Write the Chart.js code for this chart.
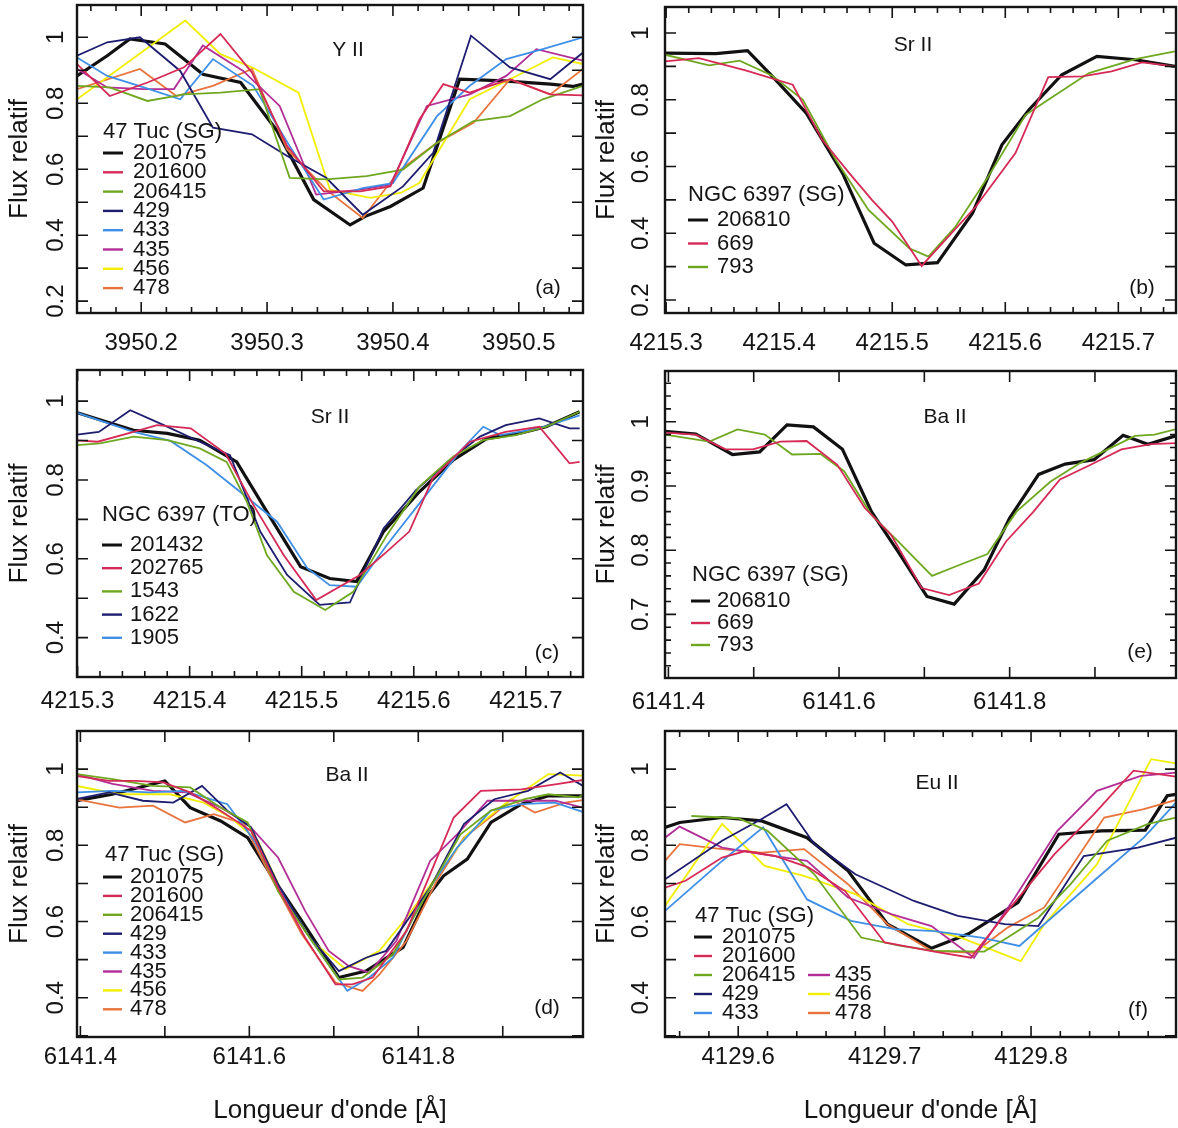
<!DOCTYPE html>
<html>
<head>
<meta charset="utf-8">
<title>Profils de raies</title>
<script src="https://cdn.jsdelivr.net/npm/chart.js@4.4.1/dist/chart.umd.min.js"></script>
<style>
  body { margin: 0; background: #fff; width: 1178px; height: 1128px; position: relative; overflow: hidden; }
  canvas { position: absolute; }
</style>
</head>
<body>
<canvas id="chartA" width="590" height="365" style="left:0;top:0"></canvas>
<canvas id="chartB" width="588" height="365" style="left:590px;top:0"></canvas>
<canvas id="chartC" width="590" height="360" style="left:0;top:365px"></canvas>
<canvas id="chartE" width="588" height="360" style="left:590px;top:365px"></canvas>
<canvas id="chartD" width="590" height="403" style="left:0;top:725px"></canvas>
<canvas id="chartF" width="588" height="403" style="left:590px;top:725px"></canvas>
<script>
// star names per sample
const tucSG = ['201075', '201600', '206415', '429', '433', '435', '456', '478'];
const ngcSG = ['206810', '669', '793'];
const ngcTO = ['201432', '202765', '1543', '1622', '1905'];

// (a) Y II, 47 Tuc (SG)  -- [wavelength, relative flux]
const a_201075 = [[3950.149,0.883],[3950.173,0.944],[3950.191,0.995],[3950.219,0.980],[3950.249,0.888],[3950.279,0.863],[3950.308,0.716],[3950.337,0.508],[3950.366,0.431],[3950.378,0.457],[3950.398,0.487],[3950.424,0.543],[3950.453,0.873],[3950.488,0.868],[3950.525,0.858],[3950.543,0.851],[3950.551,0.858]];
const a_201600 = [[3950.149,0.919],[3950.175,0.822],[3950.205,0.863],[3950.234,0.909],[3950.263,1.010],[3950.288,0.893],[3950.316,0.670],[3950.345,0.533],[3950.374,0.533],[3950.398,0.548],[3950.421,0.751],[3950.440,0.858],[3950.461,0.832],[3950.493,0.873],[3950.525,0.827],[3950.551,0.824]];
const a_206415 = [[3950.149,0.853],[3950.175,0.848],[3950.205,0.807],[3950.234,0.827],[3950.263,0.832],[3950.294,0.843],[3950.318,0.574],[3950.347,0.569],[3950.379,0.579],[3950.408,0.599],[3950.435,0.680],[3950.464,0.746],[3950.493,0.761],[3950.519,0.812],[3950.551,0.853]];
const a_429 = [[3950.149,0.944],[3950.173,0.985],[3950.199,1.000],[3950.231,0.898],[3950.257,0.726],[3950.288,0.706],[3950.316,0.640],[3950.347,0.574],[3950.376,0.462],[3950.408,0.548],[3950.432,0.650],[3950.462,1.005],[3950.493,0.909],[3950.525,0.873],[3950.551,0.954]];
const a_433 = [[3950.149,0.939],[3950.173,0.883],[3950.202,0.848],[3950.231,0.812],[3950.257,0.934],[3950.289,0.853],[3950.318,0.670],[3950.345,0.508],[3950.376,0.543],[3950.400,0.558],[3950.435,0.761],[3950.461,0.853],[3950.490,0.934],[3950.519,0.964],[3950.551,1.000]];
const a_435 = [[3950.149,0.904],[3950.173,0.848],[3950.202,0.843],[3950.226,0.843],[3950.249,0.975],[3950.281,0.898],[3950.310,0.792],[3950.339,0.523],[3950.374,0.538],[3950.398,0.553],[3950.427,0.792],[3950.461,0.827],[3950.490,0.883],[3950.514,0.964],[3950.551,0.929]];
const a_456 = [[3950.149,0.812],[3950.235,1.051],[3950.263,0.949],[3950.288,0.909],[3950.325,0.832],[3950.350,0.538],[3950.382,0.513],[3950.406,0.528],[3950.421,0.558],[3950.461,0.812],[3950.493,0.873],[3950.527,0.939],[3950.551,0.919]];
const a_478 = [[3950.149,0.843],[3950.199,0.904],[3950.228,0.822],[3950.257,0.853],[3950.288,0.904],[3950.316,0.660],[3950.347,0.538],[3950.376,0.452],[3950.406,0.599],[3950.435,0.680],[3950.464,0.741],[3950.493,0.873],[3950.525,0.827],[3950.551,0.904]];

// (b) Sr II, NGC 6397 (SG)
const b_206810 = [[4215.299,0.940],[4215.344,0.938],[4215.372,0.947],[4215.394,0.870],[4215.424,0.760],[4215.456,0.580],[4215.484,0.370],[4215.512,0.305],[4215.540,0.312],[4215.571,0.460],[4215.597,0.665],[4215.621,0.770],[4215.650,0.875],[4215.681,0.930],[4215.715,0.920],[4215.750,0.900]];
const b_669 = [[4215.299,0.915],[4215.329,0.925],[4215.371,0.887],[4215.412,0.845],[4215.438,0.680],[4215.462,0.580],[4215.482,0.500],[4215.500,0.435],[4215.526,0.302],[4215.547,0.380],[4215.574,0.480],[4215.609,0.640],[4215.638,0.868],[4215.668,0.870],[4215.694,0.885],[4215.721,0.912],[4215.750,0.900]];
const b_793 = [[4215.299,0.935],[4215.338,0.903],[4215.365,0.917],[4215.394,0.872],[4215.421,0.800],[4215.450,0.620],[4215.479,0.470],[4215.515,0.355],[4215.532,0.330],[4215.556,0.420],[4215.585,0.570],[4215.618,0.755],[4215.638,0.800],[4215.674,0.880],[4215.715,0.922],[4215.750,0.945]];

// (c) Sr II, NGC 6397 (TO)
const c_201432 = [[4215.297,0.973],[4215.350,0.926],[4215.380,0.918],[4215.409,0.901],[4215.442,0.846],[4215.469,0.719],[4215.499,0.580],[4215.525,0.550],[4215.549,0.542],[4215.573,0.669],[4215.605,0.770],[4215.635,0.850],[4215.665,0.905],[4215.694,0.918],[4215.718,0.935],[4215.748,0.973]];
const c_202765 = [[4215.297,0.901],[4215.318,0.897],[4215.350,0.922],[4215.371,0.939],[4215.401,0.931],[4215.432,0.867],[4215.457,0.736],[4215.484,0.609],[4215.513,0.495],[4215.552,0.559],[4215.576,0.618],[4215.596,0.669],[4215.617,0.804],[4215.650,0.897],[4215.682,0.922],[4215.712,0.935],[4215.739,0.842],[4215.748,0.846]];
const c_1543 = [[4215.297,0.888],[4215.320,0.893],[4215.350,0.910],[4215.380,0.901],[4215.409,0.880],[4215.433,0.846],[4215.451,0.745],[4215.469,0.609],[4215.493,0.516],[4215.521,0.470],[4215.546,0.516],[4215.576,0.660],[4215.605,0.783],[4215.635,0.859],[4215.662,0.901],[4215.691,0.914],[4215.718,0.935],[4215.748,0.973]];
const c_1622 = [[4215.297,0.914],[4215.319,0.922],[4215.347,0.977],[4215.377,0.939],[4215.409,0.897],[4215.436,0.863],[4215.463,0.669],[4215.487,0.559],[4215.516,0.483],[4215.543,0.489],[4215.573,0.677],[4215.602,0.774],[4215.632,0.850],[4215.659,0.910],[4215.682,0.939],[4215.712,0.956],[4215.739,0.931],[4215.748,0.931]];
const c_1905 = [[4215.297,0.973],[4215.350,0.922],[4215.383,0.899],[4215.415,0.838],[4215.445,0.770],[4215.478,0.694],[4215.505,0.576],[4215.525,0.533],[4215.549,0.529],[4215.576,0.635],[4215.611,0.762],[4215.641,0.872],[4215.662,0.935],[4215.677,0.914],[4215.712,0.931],[4215.748,0.964]];

// (e) Ba II, NGC 6397 (SG)
const e_206810 = [[6141.396,0.985],[6141.432,0.981],[6141.475,0.949],[6141.507,0.953],[6141.539,0.995],[6141.570,0.992],[6141.604,0.957],[6141.638,0.860],[6141.669,0.798],[6141.703,0.728],[6141.735,0.716],[6141.770,0.769],[6141.800,0.850],[6141.834,0.918],[6141.865,0.934],[6141.899,0.941],[6141.933,0.979],[6141.962,0.965],[6142.002,0.981]];
const e_669 = [[6141.396,0.983],[6141.432,0.980],[6141.467,0.957],[6141.499,0.957],[6141.531,0.969],[6141.562,0.970],[6141.598,0.933],[6141.630,0.866],[6141.661,0.824],[6141.697,0.741],[6141.729,0.730],[6141.764,0.748],[6141.796,0.814],[6141.828,0.860],[6141.859,0.910],[6141.895,0.933],[6141.931,0.957],[6141.966,0.965],[6142.002,0.967]];
const e_793 = [[6141.396,0.980],[6141.448,0.969],[6141.481,0.988],[6141.513,0.980],[6141.545,0.949],[6141.578,0.950],[6141.606,0.923],[6141.638,0.855],[6141.669,0.814],[6141.709,0.760],[6141.741,0.777],[6141.774,0.794],[6141.808,0.860],[6141.848,0.907],[6141.883,0.936],[6141.915,0.957],[6141.947,0.978],[6141.970,0.980],[6142.002,0.991]];

// (d) Ba II, 47 Tuc (SG)
const d_201075 = [[6141.395,0.917],[6141.438,0.934],[6141.500,0.969],[6141.530,0.899],[6141.566,0.864],[6141.598,0.820],[6141.630,0.707],[6141.662,0.602],[6141.706,0.453],[6141.738,0.470],[6141.782,0.532],[6141.810,0.663],[6141.830,0.720],[6141.858,0.764],[6141.886,0.860],[6141.922,0.908],[6141.954,0.930],[6142.002,0.930]];
const d_201600 = [[6141.395,0.982],[6141.434,0.969],[6141.466,0.969],[6141.498,0.965],[6141.530,0.939],[6141.566,0.891],[6141.602,0.838],[6141.634,0.689],[6141.666,0.558],[6141.702,0.435],[6141.722,0.435],[6141.746,0.453],[6141.786,0.575],[6141.814,0.724],[6141.842,0.873],[6141.874,0.943],[6141.922,0.947],[6141.966,0.961],[6142.002,0.974]];
const d_206415 = [[6141.395,0.987],[6141.438,0.974],[6141.486,0.956],[6141.530,0.952],[6141.566,0.899],[6141.598,0.860],[6141.634,0.680],[6141.666,0.575],[6141.706,0.448],[6141.734,0.453],[6141.770,0.514],[6141.810,0.672],[6141.850,0.829],[6141.886,0.891],[6141.926,0.921],[6141.954,0.934],[6141.990,0.926],[6142.002,0.943]];
const d_429 = [[6141.395,0.921],[6141.434,0.939],[6141.474,0.917],[6141.510,0.912],[6141.544,0.956],[6141.574,0.891],[6141.602,0.847],[6141.634,0.698],[6141.666,0.575],[6141.706,0.470],[6141.738,0.505],[6141.762,0.523],[6141.814,0.689],[6141.854,0.856],[6141.890,0.921],[6141.930,0.943],[6141.968,0.991],[6142.002,0.947]];
const d_433 = [[6141.395,0.939],[6141.438,0.943],[6141.482,0.939],[6141.522,0.943],[6141.574,0.908],[6141.606,0.812],[6141.642,0.663],[6141.674,0.549],[6141.716,0.418],[6141.742,0.453],[6141.770,0.505],[6141.806,0.663],[6141.846,0.794],[6141.886,0.891],[6141.922,0.908],[6141.962,0.912],[6142.002,0.882]];
const d_435 = [[6141.395,0.987],[6141.438,0.961],[6141.486,0.943],[6141.526,0.939],[6141.566,0.899],[6141.598,0.856],[6141.634,0.768],[6141.666,0.628],[6141.694,0.523],[6141.718,0.483],[6141.742,0.466],[6141.774,0.549],[6141.814,0.759],[6141.846,0.829],[6141.882,0.917],[6141.922,0.917],[6141.962,0.917],[6142.002,0.895]];
const d_456 = [[6141.395,0.956],[6141.446,0.934],[6141.506,0.934],[6141.546,0.912],[6141.578,0.873],[6141.610,0.812],[6141.642,0.663],[6141.674,0.549],[6141.714,0.475],[6141.754,0.523],[6141.786,0.610],[6141.818,0.707],[6141.858,0.829],[6141.902,0.908],[6141.954,0.987],[6142.002,0.982]];
const d_478 = [[6141.395,0.921],[6141.446,0.899],[6141.486,0.904],[6141.524,0.860],[6141.558,0.882],[6141.594,0.856],[6141.626,0.715],[6141.662,0.567],[6141.702,0.440],[6141.734,0.418],[6141.754,0.461],[6141.786,0.549],[6141.822,0.707],[6141.854,0.820],[6141.890,0.882],[6141.910,0.921],[6141.938,0.886],[6141.974,0.912],[6142.002,0.921]];

// (f) Eu II, 47 Tuc (SG)
const f_201075 = [[4129.550,0.847],[4129.560,0.860],[4129.589,0.873],[4129.616,0.864],[4129.647,0.820],[4129.675,0.733],[4129.702,0.593],[4129.732,0.530],[4129.757,0.567],[4129.791,0.650],[4129.819,0.829],[4129.848,0.838],[4129.878,0.840],[4129.893,0.930],[4129.899,0.934]];
const f_201600 = [[4129.550,0.689],[4129.564,0.707],[4129.589,0.768],[4129.605,0.785],[4129.625,0.772],[4129.648,0.742],[4129.673,0.680],[4129.700,0.545],[4129.734,0.521],[4129.759,0.505],[4129.786,0.637],[4129.816,0.777],[4129.843,0.882],[4129.870,0.996],[4129.899,0.980]];
const f_206415 = [[4129.568,0.877],[4129.600,0.871],[4129.620,0.838],[4129.652,0.724],[4129.684,0.558],[4129.711,0.536],[4129.734,0.523],[4129.768,0.521],[4129.784,0.558],[4129.805,0.610],[4129.827,0.698],[4129.852,0.812],[4129.880,0.856],[4129.899,0.873]];
const f_429 = [[4129.550,0.711],[4129.589,0.812],[4129.616,0.869],[4129.633,0.908],[4129.652,0.803],[4129.680,0.724],[4129.720,0.654],[4129.750,0.615],[4129.782,0.593],[4129.805,0.588],[4129.836,0.772],[4129.873,0.794],[4129.899,0.820]];
const f_433 = [[4129.550,0.628],[4129.589,0.759],[4129.617,0.847],[4129.647,0.658],[4129.677,0.602],[4129.707,0.580],[4129.734,0.575],[4129.766,0.558],[4129.792,0.536],[4129.809,0.593],[4129.843,0.707],[4129.877,0.820],[4129.899,0.912]];
const f_435 = [[4129.550,0.820],[4129.560,0.849],[4129.589,0.794],[4129.616,0.777],[4129.647,0.759],[4129.675,0.663],[4129.705,0.619],[4129.732,0.588],[4129.761,0.505],[4129.789,0.663],[4129.818,0.838],[4129.845,0.943],[4129.875,0.982],[4129.899,0.991]];
const f_456 = [[4129.550,0.641],[4129.589,0.856],[4129.618,0.746],[4129.645,0.720],[4129.680,0.672],[4129.716,0.593],[4129.752,0.558],[4129.793,0.496],[4129.809,0.593],[4129.845,0.750],[4129.882,1.026],[4129.899,1.015]];
const f_478 = [[4129.550,0.759],[4129.560,0.803],[4129.589,0.790],[4129.616,0.781],[4129.645,0.790],[4129.675,0.698],[4129.702,0.593],[4129.732,0.523],[4129.761,0.518],[4129.784,0.584],[4129.809,0.637],[4129.850,0.873],[4129.877,0.895],[4129.899,0.919]];

const INK = '#141414';
const FONT = "'Liberation Sans', Arial, sans-serif";
// same colour order in every panel: black, red, green, navy, light blue, magenta, yellow, orange
const palette = ['#111111', '#d62a56', '#6fa820', '#1d1d70', '#3f8fe6', '#b22d95', '#f2ee00', '#e8733d'];

function isMult(v, step) {
    let q = v / step;
    return Math.abs(q - Math.round(q)) < 1e-3;
}

// frame, inward ticks, element name, panel tag and legend
function decor(cfg) {
    return {
        id: 'decor',
        afterDraw(chart) {
            let ctx = chart.ctx;
            let a = chart.chartArea;
            let xs = chart.scales.x, ys = chart.scales.y;
            ctx.save();
            ctx.strokeStyle = INK;
            ctx.lineWidth = 1.6;
            ctx.beginPath();
            xs.ticks.forEach(t => {
                let p = xs.getPixelForValue(t.value);
                let len = isMult(t.value, cfg.xMajor) ? 11 : 6;
                ctx.moveTo(p, a.bottom); ctx.lineTo(p, a.bottom - len);
                ctx.moveTo(p, a.top); ctx.lineTo(p, a.top + len);
            });
            ys.ticks.forEach(t => {
                let p = ys.getPixelForValue(t.value);
                let len = isMult(t.value, cfg.yMajor) ? 11 : 6;
                ctx.moveTo(a.left, p); ctx.lineTo(a.left + len, p);
                ctx.moveTo(a.right, p); ctx.lineTo(a.right - len, p);
            });
            ctx.stroke();
            ctx.lineWidth = 2.4;
            ctx.strokeRect(a.left, a.top, a.right - a.left, a.bottom - a.top);

            ctx.fillStyle = INK;
            ctx.textBaseline = 'middle';
            ctx.textAlign = 'center';
            ctx.font = '21px ' + FONT;
            ctx.fillText(cfg.element, a.left + cfg.elemAt[0], a.top + cfg.elemAt[1]);
            ctx.fillText(cfg.tag, a.right - cfg.tagAt[0], a.bottom - cfg.tagAt[1]);

            // legend
            let L = cfg.legend;
            ctx.textAlign = 'left';
            ctx.font = '22px ' + FONT;
            ctx.fillText(cfg.group, a.left + L.titleX, a.top + L.titleY);
            chart.data.datasets.forEach((ds, i) => {
                let second = L.split && i >= L.split;
                let col = second ? L.col2 : L.col1;
                let row = second ? i - L.split + L.col2.row : i;
                let y = a.top + L.rowY + row * L.rowH;
                ctx.strokeStyle = ds.borderColor;
                ctx.lineWidth = ds.borderWidth > 2 ? 3 : 2.4;
                ctx.beginPath();
                ctx.moveTo(a.left + col.line[0], y);
                ctx.lineTo(a.left + col.line[1], y);
                ctx.stroke();
                ctx.fillStyle = INK;
                ctx.fillText(ds.label, a.left + col.text, y);
            });
            ctx.restore();
        }
    };
}

function makePanel(cfg) {
    let datasets = cfg.series.map((s, i) => ({
        label: cfg.names[i],
        data: s.map(p => ({x: p[0], y: p[1]})),
        borderColor: palette[i],
        borderWidth: i === 0 ? 3.2 : 1.8,
        pointRadius: 0,
        tension: 0,
        fill: false,
        order: i === 0 ? 10 : i
    }));
    let left = cfg.col === 0;
    return new Chart(document.getElementById(cfg.id), {
        type: 'line',
        data: {datasets: datasets},
        plugins: [decor(cfg)],
        options: {
            responsive: false,
            animation: false,
            layout: {padding: {top: cfg.padTop, right: left ? 7 : 2, bottom: 0, left: 0}},
            plugins: {legend: {display: false}, tooltip: {enabled: false}, title: {display: false}},
            scales: {
                x: {
                    type: 'linear',
                    min: cfg.x[0], max: cfg.x[1],
                    grid: {display: false, drawTicks: false},
                    border: {display: false},
                    ticks: {
                        stepSize: cfg.xStep, autoSkip: false, includeBounds: false,
                        minRotation: 0, maxRotation: 0, padding: cfg.xPad,
                        color: INK, font: {family: FONT, size: 24},
                        callback: v => isMult(v, cfg.xLabel) ? v.toFixed(1) : ''
                    },
                    title: {
                        display: !!cfg.xTitle, text: "Longueur d'onde [Å]", color: INK,
                        font: {family: FONT, size: 26}, padding: {top: 0, bottom: 2}
                    },
                    afterFit: s => { s.height = cfg.xHeight; s.paddingLeft = 0; s.paddingRight = 0; }
                },
                y: {
                    type: 'linear',
                    min: cfg.y[0], max: cfg.y[1],
                    grid: {display: false, drawTicks: false},
                    border: {display: false},
                    ticks: {
                        stepSize: cfg.yStep, autoSkip: false, includeBounds: false,
                        minRotation: 90, maxRotation: 90, crossAlign: 'center',
                        padding: left ? 4 : 7,
                        color: INK, font: {family: FONT, size: 24},
                        callback: v => isMult(v, cfg.yLabel) ? String(Math.round(v * 10) / 10) : ''
                    },
                    title: {
                        display: true, text: 'Flux relatif', color: INK,
                        font: {family: FONT, size: 26}, padding: {top: left ? 4 : 1, bottom: 0}
                    },
                    afterFit: s => { s.width = left ? 77 : 75; s.paddingTop = 0; s.paddingBottom = 0; }
                }
            }
        }
    });
}

makePanel({
    id: 'chartA', col: 0, element: 'Y II', tag: '(a)', group: '47 Tuc (SG)', names: tucSG,
    series: [a_201075, a_201600, a_206415, a_429, a_433, a_435, a_456, a_478],
    x: [3950.149, 3950.551], xStep: 0.02, xMajor: 0.1, xLabel: 0.1,
    y: [0.164, 1.098], yStep: 0.1, yMajor: 0.1, yLabel: 0.2,
    padTop: 5, xHeight: 52, xPad: 16,
    elemAt: [271, 45], tagAt: [35, 25],
    legend: {titleX: 26, titleY: 127, rowY: 148, rowH: 19.3, col1: {line: [26, 46], text: 56}}
});

makePanel({
    id: 'chartB', col: 1, element: 'Sr II', tag: '(b)', group: 'NGC 6397 (SG)', names: ngcSG,
    series: [b_206810, b_669, b_793],
    x: [4215.299, 4215.751], xStep: 0.02, xMajor: 0.1, xLabel: 0.1,
    y: [0.161, 1.078], yStep: 0.1, yMajor: 0.1, yLabel: 0.2,
    padTop: 7, xHeight: 52, xPad: 16,
    elemAt: [248, 38], tagAt: [34, 25],
    legend: {titleX: 23, titleY: 188, rowY: 213, rowH: 23.5, col1: {line: [23, 43], text: 52}}
});

makePanel({
    id: 'chartC', col: 0, element: 'Sr II', tag: '(c)', group: 'NGC 6397 (TO)', names: ngcTO,
    series: [c_201432, c_202765, c_1543, c_1622, c_1905],
    x: [4215.2995, 4215.751], xStep: 0.02, xMajor: 0.1, xLabel: 0.1,
    y: [0.30, 1.079], yStep: 0.1, yMajor: 0.1, yLabel: 0.2,
    padTop: 5, xHeight: 48, xPad: 10,
    elemAt: [253, 47], tagAt: [36, 24],
    legend: {titleX: 25, titleY: 145, rowY: 175, rowH: 23.2, col1: {line: [25, 45], text: 53}}
});

makePanel({
    id: 'chartE', col: 1, element: 'Ba II', tag: '(e)', group: 'NGC 6397 (SG)', names: ngcSG,
    series: [e_206810, e_669, e_793],
    x: [6141.396, 6141.995], xStep: 0.1, xMajor: 0.1, xLabel: 0.2,
    y: [0.601, 1.079], yStep: 0.02, yMajor: 0.1, yLabel: 0.1,
    padTop: 6, xHeight: 47, xPad: 10,
    elemAt: [280, 46], tagAt: [36, 26],
    legend: {titleX: 27, titleY: 204, rowY: 230, rowH: 22, col1: {line: [26, 45], text: 52}}
});

makePanel({
    id: 'chartD', col: 0, element: 'Ba II', tag: '(d)', group: '47 Tuc (SG)', names: tucSG,
    series: [d_201075, d_201600, d_206415, d_429, d_433, d_435, d_456, d_478],
    x: [6141.396, 6141.995], xStep: 0.1, xMajor: 0.1, xLabel: 0.2,
    y: [0.297, 1.1], yStep: 0.1, yMajor: 0.1, yLabel: 0.2,
    padTop: 6, xHeight: 91, xPad: 6, xTitle: true,
    elemAt: [270, 44], tagAt: [36, 29],
    legend: {titleX: 28, titleY: 124, rowY: 146, rowH: 18.9, col1: {line: [26, 45], text: 53}}
});

makePanel({
    id: 'chartF', col: 1, element: 'Eu II', tag: '(f)', group: '47 Tuc (SG)', names: tucSG,
    series: [f_201075, f_201600, f_206415, f_429, f_433, f_435, f_456, f_478],
    x: [4129.55, 4129.899], xStep: 0.02, xMajor: 0.1, xLabel: 0.1,
    y: [0.297, 1.1], yStep: 0.1, yMajor: 0.1, yLabel: 0.2,
    padTop: 6, xHeight: 91, xPad: 6, xTitle: true,
    elemAt: [272, 52], tagAt: [38, 27],
    legend: {
        titleX: 30, titleY: 185, rowY: 206, rowH: 19, split: 5,
        col1: {line: [29, 47], text: 57},
        col2: {line: [143, 165], text: 170, row: 2}
    }
});
</script>
</body>
</html>
